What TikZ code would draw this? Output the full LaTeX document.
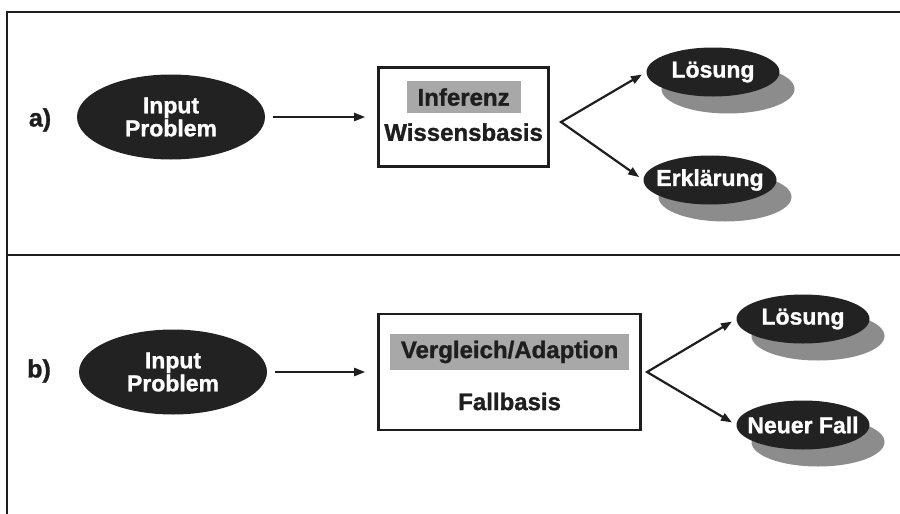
\documentclass[tikz,border=0pt]{standalone}
\usepackage{fontspec}
\setmainfont{Liberation Sans}[BoldFeatures={FakeBold=1.2}]
\usepackage{tikz}
\usetikzlibrary{arrows.meta,positioning,shapes.geometric,shadows}
\definecolor{ink}{HTML}{1E1E1E}
\definecolor{blobfill}{HTML}{222222}
\definecolor{shade}{HTML}{8C8C8C}
\definecolor{hlgray}{HTML}{A8A8A8}
\newcommand{\hlword}[1]{{\setlength{\fboxsep}{7pt}\colorbox{hlgray}{\hspace{4pt}#1\hspace{4pt}}}}

\begin{document}
\begin{tikzpicture}[x=1pt, y=-1pt,
    frame/.style={draw=ink, line width=2.4pt},
    kbox/.style={rectangle, draw=ink, line width=2.8pt, fill=white, align=center, text=ink,
                 font=\fontsize{24}{24}\selectfont\bfseries, inner sep=0pt},
    blob/.style={ellipse, fill=blobfill, text=white, align=center, inner sep=0pt,
                 minimum width=188pt, minimum height=85pt, font=\fontsize{23}{23}\selectfont\bfseries},
    outblob/.style={blob, inner xsep=-20pt, minimum width=133pt, minimum height=49pt,
                 drop shadow={shadow xshift=15pt, shadow yshift=-17pt, fill=shade, opacity=1}},
    lbl/.style={text=ink, font=\fontsize{25}{25}\selectfont\bfseries},
    arrow/.style={-{Triangle[length=11pt,width=8pt]}, line width=2.2pt, draw=ink},
    fork/.style={arrow, {Triangle[length=11pt,width=8pt]}-{Triangle[length=11pt,width=8pt]},
                 shorten <=5pt, shorten >=5pt},
    node distance=111pt
]
  \useasboundingbox (0,0) rectangle (900,514);

  % Frame
  \draw[frame] (901,12) -- (7,12) -- (7,515);
  \draw[frame] (7,255) -- (901,255);

  % a) Wissensbasis
  \node[lbl] (labA) at (40,120) {a)};
  \node[blob] (inA) at (171,117) {Input\\Problem};
  \node[kbox, minimum width=170pt, minimum height=99pt, right=112pt of inA] (kbA)
       {\hlword{Inferenz}\\[9.5pt]Wissensbasis\rule[-12pt]{0pt}{12pt}};
  \coordinate (forkA) at (561,122);
  \node[outblob] (solA) at (713,72) {Lösung};
  \node[outblob] (explA) at (710,180) {Erklärung};

  % b) Fallbasis
  \node[lbl] (labB) at (39,371) {b)};
  \node[blob] (inB) at (173,372) {Input\\Problem};
  \node[kbox, minimum width=262pt, minimum height=116pt, right=110pt of inB] (cbB)
       {\hlword{Vergleich/Adaption}\\[21.5pt]Fallbasis};
  \coordinate (forkB) at (647,372);
  \node[outblob] (solB) at (803,319) {Lösung};
  \node[outblob] (newB) at (803,425) {Neuer Fall};

  % Arrows
  \draw[arrow, shorten <=8pt, shorten >=12pt] (inA) -- (kbA);
  \draw[fork] (solA.west) -- (forkA) -- (explA.west);
  \draw[arrow, shorten <=8pt, shorten >=12pt] (inB) -- (cbB);
  \draw[fork] (solB.west) -- (forkB) -- (newB.west);

\end{tikzpicture}
\end{document}
